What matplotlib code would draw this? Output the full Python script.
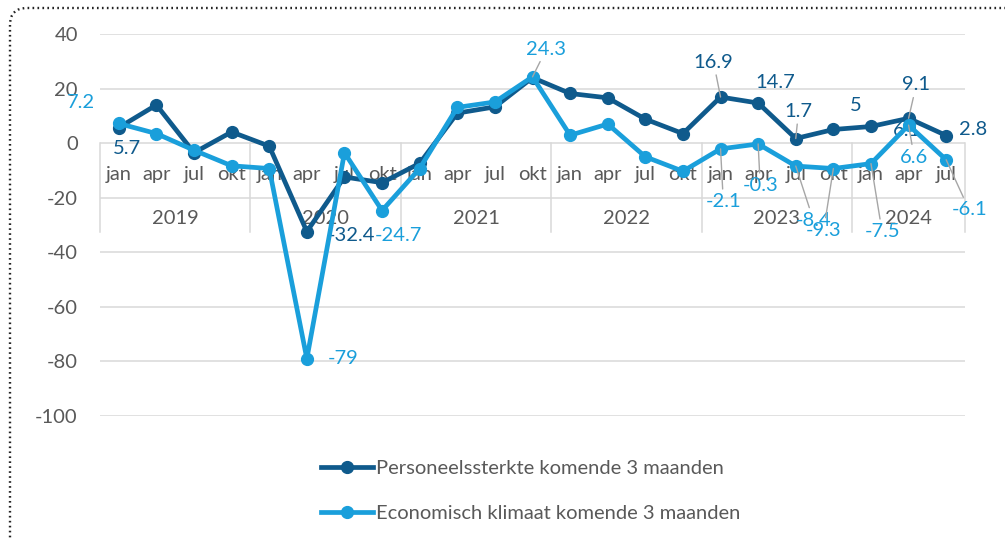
import numpy as np
import matplotlib.pyplot as plt
from matplotlib.patches import FancyBboxPatch
from matplotlib.lines import Line2D

plt.rcParams['font.family'] = ['Lato', 'DejaVu Sans']
plt.rcParams['axes.unicode_minus'] = False

# -----------------------------------------------------------------------
# Data
# -----------------------------------------------------------------------

MONTHS = ["jan", "apr", "jul", "okt"] * 5 + ["jan", "apr", "jul"]
YEARS = ["2019", "2020", "2021", "2022", "2023", "2024"]
YEAR_SIZES = [4, 4, 4, 4, 4, 3]

personeel = [5.7, 14.0, -3.5, 4.1, -1.1, -32.4, -12.4, -14.5, -7.4, 11.0, 13.3, 24.0,
             18.2, 16.6, 8.8, 3.5, 16.9, 14.7, 1.7, 5.0, 6.1, 9.1, 2.8]
klimaat = [7.2, 3.5, -2.6, -8.3, -9.3, -79.0, -3.5, -24.7, -9.3, 13.1, 15.1, 24.3,
           2.9, 7.0, -5.0, -10.3, -2.1, -0.3, -8.4, -9.3, -7.5, 6.6, -6.1]

LABEL_PERS = "Personeelssterkte komende 3 maanden"
LABEL_KLIM = "Economisch klimaat komende 3 maanden"

# which points carry a data label: index -> (dx, dy in points, leader line)
pers_labels = {0: (6, -15, False), 5: (32, -2.5, False), 16: (-5, 25, True),
               17: (12, 15, False), 18: (2, 19.5, True), 19: (16, 17, False),
               20: (26, -3, False), 21: (5.5, 24, True), 22: (19.5, 4.6, False)}
klim_labels = {0: (-27, 15, False), 5: (26, 0, False), 7: (11.5, -17.7, False),
               11: (10, 20, True), 16: (2, -38, True), 17: (1.5, -30, True),
               18: (12.7, -39, True), 19: (-7, -44.5, True), 20: (8, -49, True),
               21: (4, -23, True), 22: (16.5, -36, True)}

DARK = "#0F5A8C"
LIGHT = "#1A9FDB"
TXT = "#595959"
GRID = "#D9D9D9"
FS = 14.5

x = np.arange(len(MONTHS))

fig = plt.figure(figsize=(10.05, 5.4), dpi=100)
ax = fig.add_axes([100 / 1005, 1 - 416 / 540, 865 / 1005, 382 / 540])

ax.set_xlim(-0.5, len(MONTHS) - 0.5)
ax.set_ylim(-100, 40)
ax.set_yticks(range(-100, 41, 20))
ax.set_xticks([])
ax.tick_params(axis="y", length=0, pad=16, labelsize=FS, labelcolor=TXT)
for s in ax.spines.values():
    s.set_visible(False)
ax.grid(axis="y", color=GRID, linewidth=1.1)
ax.set_axisbelow(True)

# category axis (two levels) sitting at y = 0
for i, m in enumerate(MONTHS):
    ax.text(i, -11.5, m, ha="center", va="center", fontsize=FS, color=TXT, zorder=1)
edges = np.concatenate([[0], np.cumsum(YEAR_SIZES)]) - 0.5
for e in edges:
    ax.plot([e, e], [0, -32.6], color=GRID, lw=1.1, clip_on=False, zorder=0)
for yr, a, b in zip(YEARS, edges[:-1], edges[1:]):
    ax.text((a + b) / 2, -27.5, yr, ha="center", va="center", fontsize=FS, color=TXT, zorder=1)

ax.plot(x, personeel, color=DARK, lw=3.4, marker="o", ms=8.5, zorder=3)
ax.plot(x, klimaat, color=LIGHT, lw=3.4, marker="o", ms=8.5, zorder=5)


def add_labels(values, spec, color, z):
    for i, (dx, dy, leader) in spec.items():
        arrow = None
        if leader:
            arrow = dict(arrowstyle="-", color="#A6A6A6", lw=1.0, shrinkA=1, shrinkB=0)
        ax.annotate(f"{values[i]:g}", xy=(i, values[i]), xytext=(dx, dy),
                    textcoords="offset points", ha="center", va="center",
                    fontsize=FS, color=color, arrowprops=arrow, zorder=z)


add_labels(personeel, pers_labels, DARK, 4)
add_labels(klimaat, klim_labels, LIGHT, 6)

handles = [Line2D([], [], color=DARK, lw=3.4, marker="o", ms=8.5),
           Line2D([], [], color=LIGHT, lw=3.4, marker="o", ms=8.5)]
leg = fig.legend(handles, [LABEL_PERS, LABEL_KLIM], loc="center",
                 bbox_to_anchor=(0.528, 0.091), frameon=False, fontsize=FS,
                 handlelength=2.6, handletextpad=0.15, labelspacing=1.4)
for t in leg.get_texts():
    t.set_color(TXT)

# dotted rounded frame, running off the right and bottom edges
frame = FancyBboxPatch((0.10, -0.3), 10.3, 5.62,
                       boxstyle="round,pad=0,rounding_size=0.17",
                       transform=fig.dpi_scale_trans, fill=False,
                       edgecolor="#222222", lw=1.7, linestyle=(0, (0.7, 1.4)))
fig.add_artist(frame)

fig.savefig("out.png", dpi=100)
